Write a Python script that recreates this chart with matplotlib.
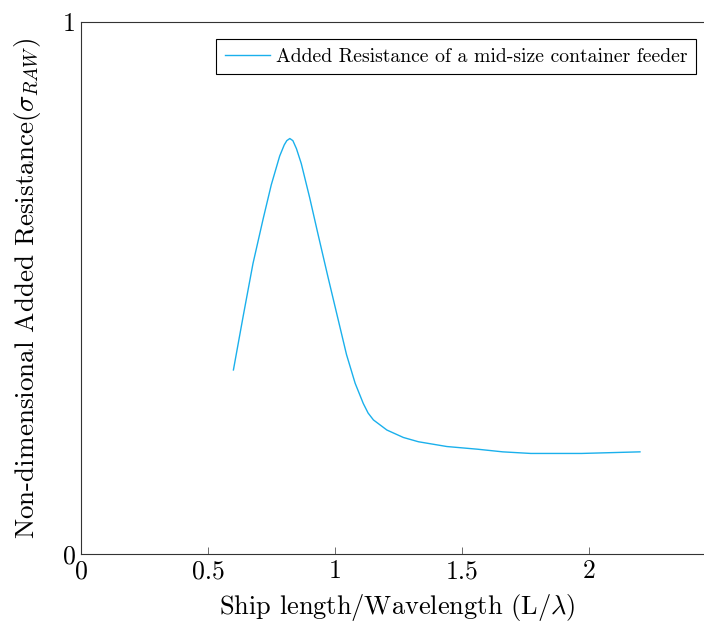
import matplotlib.pyplot as plt

plt.rcParams['font.family'] = 'serif'
plt.rcParams['font.serif'] = ['cmr10']
plt.rcParams['mathtext.fontset'] = 'cm'
plt.rcParams['axes.formatter.use_mathtext'] = True

# ship length / wavelength vs non-dimensional added resistance
ratio = [0.600, 0.638, 0.677, 0.717, 0.749, 0.782, 0.800, 0.810, 0.822,
         0.834, 0.848, 0.867, 0.900, 0.933, 0.972, 1.012, 1.045, 1.079,
         1.111, 1.130, 1.151, 1.204, 1.269, 1.328, 1.44, 1.56, 1.66, 1.77,
         1.97, 2.20]
sigma_raw = [0.346, 0.446, 0.546, 0.630, 0.694, 0.748, 0.769, 0.777, 0.781,
             0.777, 0.762, 0.734, 0.670, 0.601, 0.521, 0.441, 0.375, 0.321,
             0.283, 0.265, 0.252, 0.233, 0.219, 0.211, 0.202, 0.197, 0.192,
             0.189, 0.189, 0.192]

fig = plt.figure(figsize=(7.04, 6.24), dpi=100)
ax = fig.add_axes([0.115, 0.1122, 0.898, 0.8525])

ax.plot(ratio, sigma_raw, color='#1ab0ec', lw=1.0,
        label='Added Resistance of a mid-size container feeder')

ax.set_xlim(0, 2.488)
ax.set_ylim(0, 1)
ax.set_xticks([0, 0.5, 1, 1.5, 2])
ax.set_xticklabels(['0', '0.5', '1', '1.5', '2'])
ax.set_yticks([0, 1])
ax.set_yticklabels(['0', '1'])
ax.tick_params(direction='in', length=5, width=0.6, labelsize=18.5, pad=4,
               top=False, right=False, color='#555555')
for s in ax.spines.values():
    s.set_linewidth(0.8)
    s.set_color('#333333')

ax.set_xlabel(r'Ship length/Wavelength (L/$\lambda$)', fontsize=19, labelpad=6)
ax.set_ylabel(r'Non-dimensional Added Resistance($\sigma_{RAW}$)', fontsize=19.5,
              labelpad=14)

leg = ax.legend(loc='upper right', fontsize=14.2, fancybox=False,
                framealpha=1, edgecolor='black', borderaxespad=0.85,
                handlelength=2.3, handletextpad=0.3, borderpad=0.45)
leg.get_frame().set_linewidth(0.8)

fig.savefig('out.png', dpi=100)
